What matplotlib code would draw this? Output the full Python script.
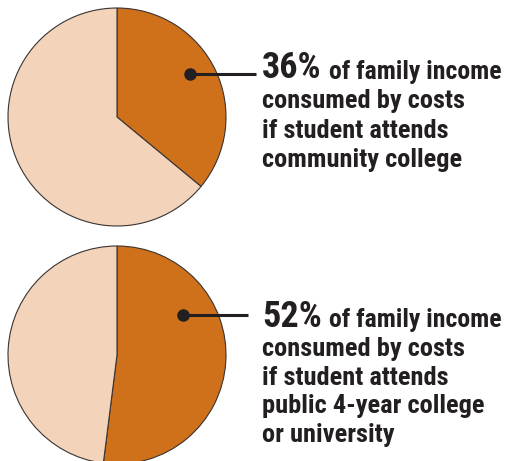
import matplotlib
matplotlib.use("Agg")
import matplotlib.pyplot as plt

# Data
shares = [36, 52]
labels_pct = ["36%", "52%"]
descriptions = [
    ["of family income", "consumed by costs", "if student attends", "community college"],
    ["of family income", "consumed by costs", "if student attends", "public 4-year college", "or university"],
]

ORANGE = "#CF701B"
PEACH = "#F3D4BA"
EDGE = "#3a3330"
TEXT = "#231f20"

W, H = 511, 461
fig = plt.figure(figsize=(W / 100, H / 100), dpi=100)
ax = fig.add_axes([0, 0, 1, 1])

centers = [(117, 117), (117, 355)]
radius = 109
dots = [(190, 74), (183, 315)]
line_ends = [256, 248]
text_x = 262
baselines = [78.5, 327]
line_gaps = [29.6, 28.8]

fam = ["Roboto Condensed", "Barlow Condensed", "DejaVu Sans"]
cond = dict(family=fam, fontweight="bold", color=TEXT)

for i, s in enumerate(shares):
    cx, cy = centers[i]
    ax.pie([s, 100 - s], colors=[ORANGE, PEACH], startangle=-90, counterclock=True,
           center=(cx, cy), radius=radius,
           wedgeprops=dict(edgecolor=EDGE, linewidth=0.8))

ax.set_xlim(0, W)
ax.set_ylim(H, 0)
ax.set_aspect("equal")
ax.axis("off")

fig.canvas.draw()
renderer = fig.canvas.get_renderer()

for i in range(2):
    dx, dy = dots[i]
    ax.plot([dx, line_ends[i]], [dy, dy], color=TEXT, lw=2.2, solid_capstyle="butt")
    ax.plot([dx], [dy], "o", color=TEXT, ms=8)
    b = baselines[i]
    t = ax.text(text_x, b, labels_pct[i], fontsize=26, va="baseline", ha="left", **cond)
    bb = t.get_window_extent(renderer)
    x2 = text_x + bb.width + 7
    ax.text(x2, b, descriptions[i][0], fontsize=18.5, va="baseline", ha="left", **cond)
    for j, line in enumerate(descriptions[i][1:], start=1):
        ax.text(text_x, b + j * line_gaps[i], line, fontsize=19, va="baseline", ha="left", **cond)

fig.savefig("out.png", dpi=100)
